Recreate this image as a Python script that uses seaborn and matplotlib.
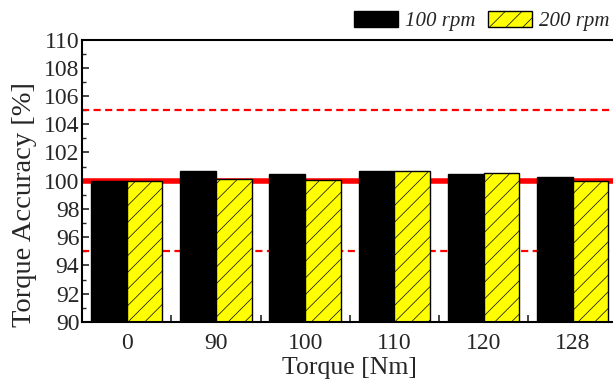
import matplotlib

matplotlib.use("Agg")
import matplotlib.pyplot as plt
import pandas as pd
import seaborn as sns
from matplotlib.patches import Patch
from matplotlib.ticker import MultipleLocator, FixedLocator

sns.set_theme(style="white")
plt.rcParams["font.family"] = ["Liberation Serif", "DejaVu Serif"]
plt.rcParams["hatch.linewidth"] = 0.5

torques = ["0", "90", "100", "110", "120", "128"]
acc_100rpm = [100.0, 100.7, 100.5, 100.7, 100.45, 100.25]
acc_200rpm = [100.0, 100.1, 100.05, 100.7, 100.55, 100.0]
speeds = ["100 rpm", "200 rpm"]

df = pd.DataFrame({
    "torque": torques * 2,
    "accuracy": acc_100rpm + acc_200rpm,
    "speed": [speeds[0]] * len(torques) + [speeds[1]] * len(torques),
})

fig = plt.figure(figsize=(6.13, 3.8), dpi=100)
ax = fig.add_axes([0.134, 0.153, 0.873, 0.743])

# reference band: nominal 100 % and +/-5 % limits
ax.axhline(100, color="red", lw=4, zorder=1)
for lim in (105, 95):
    ax.axhline(lim, color="red", lw=1.6, ls=(0, (3.2, 2.0)), zorder=1)

sns.barplot(data=df, x="torque", y="accuracy", hue="speed",
            palette=["black", "#ffff00"], saturation=1, width=0.8,
            edgecolor="black", linewidth=1.0, legend=False, zorder=2, ax=ax)
for bar in ax.patches[len(torques):]:
    bar.set_hatch("//")

ax.set_ylim(90, 110)
ax.set_xlim(-0.5, len(torques) - 0.5)
ax.yaxis.set_major_locator(MultipleLocator(2))
ax.yaxis.set_minor_locator(MultipleLocator(1))
ax.xaxis.set_minor_locator(FixedLocator([i + 0.5 for i in range(len(torques) - 1)]))
ax.tick_params(axis="y", which="major", direction="in", length=5, width=1.2,
               labelsize=17, left=True, pad=2)
ax.tick_params(axis="y", which="minor", direction="in", length=3, width=1.0, left=True)
ax.tick_params(axis="x", which="major", length=0, labelsize=17, pad=8)
ax.tick_params(axis="x", which="minor", direction="in", length=5, width=1.2, bottom=True)

for side, sp in ax.spines.items():
    sp.set_color("black")
    sp.set_linewidth(1.5)
ax.spines["right"].set_visible(False)

ax.set_xlabel("Torque [Nm]", fontsize=18.5, labelpad=2)
ax.set_ylabel("Torque Accuracy [%]", fontsize=20.5)
ax.yaxis.set_label_coords(-0.085, 0.415)

handles = [Patch(facecolor="black", edgecolor="black"),
           Patch(facecolor="#ffff00", edgecolor="black", hatch="//")]
fig.legend(handles, speeds, loc="center right", bbox_to_anchor=(0.995, 0.945),
           ncol=2, frameon=False, handlelength=2.1, handleheight=0.8,
           handletextpad=0.35, columnspacing=0.6, borderpad=0, borderaxespad=0,
           prop={"style": "italic", "size": 15})

fig.savefig("out.png", dpi=100)
